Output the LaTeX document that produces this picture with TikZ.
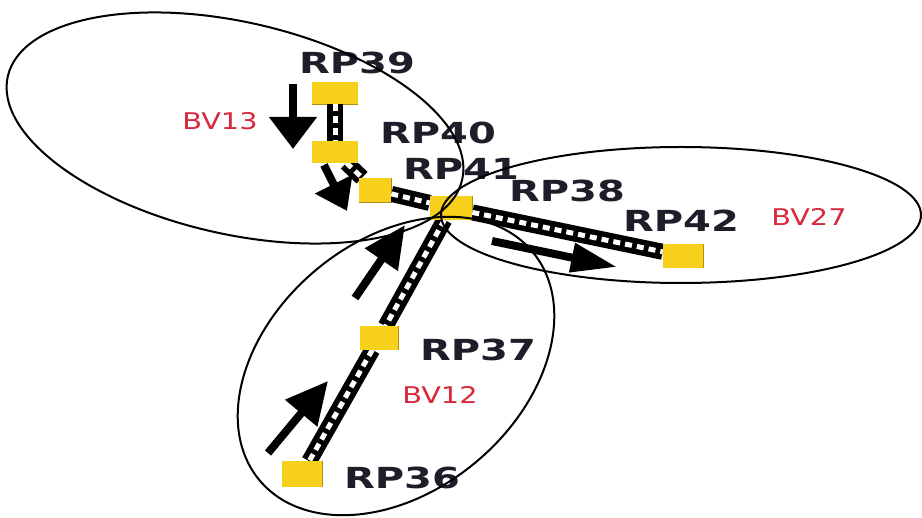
\documentclass[tikz,border=0pt]{standalone}
\usepackage{fontspec}
\newfontfamily\rpfont[FakeStretch=1.38]{DejaVu Sans Bold}
\newfontfamily\bvfont[FakeStretch=1.25]{DejaVu Sans}
\usetikzlibrary{arrows.meta}
\definecolor{padyellow}{HTML}{F6D01A}
\definecolor{bvred}{HTML}{D8283C}
\definecolor{rpink}{HTML}{1E1E2A}
\tikzset{
  pad/.style={fill=padyellow, draw=padyellow!70!black, line width=0.6pt,
    minimum width=40pt, minimum height=23pt, inner sep=0pt},
  rptext/.style={font=\rpfont\fontsize{29}{29}\selectfont, text=rpink, inner sep=0pt},
  bvtext/.style={font=\bvfont\fontsize{23}{23}\selectfont, text=bvred, inner sep=0pt},
  chainlink/.style={preaction={draw=black, line width=16pt}, draw=white,
    line width=5pt, dash pattern=on 7pt off 5pt},
  flow/.style={line width=8pt},
  zone/.style={draw=black, line width=2pt},
}
\begin{document}
\begin{tikzpicture}[x=1pt,y=-1pt]
\useasboundingbox (0,0) rectangle (922,518);
\fill[white] (0,0) rectangle (922,518);

% pads
\node[pad, minimum width=45pt, minimum height=22pt] (rp39) at (335,93) {};
\node[pad, minimum width=45pt, minimum height=21pt] (rp40) at (335,152) {};
\node[pad, minimum width=32pt, minimum height=24pt] (rp41) at (375,190) {};
\node[pad, minimum width=42pt] (rp38) at (451,208) {};
\node[pad] (rp42) at (683,256) {};
\node[pad, minimum width=38pt] (rp37) at (379,338) {};
\node[pad, minimum height=25pt] (rp36) at (302,474) {};

% chains between pads
\draw[chainlink] (rp39) -- (rp40);
\draw[chainlink] (rp40) -- (rp41);
\draw[chainlink] (rp41) -- (rp38);
\draw[chainlink] (rp38) -- (rp42);
\draw[chainlink] (rp38) -- (rp37);
\draw[chainlink] (rp37) -- (rp36);

% redraw pads over the chain ends
\foreach \p in {rp39,rp40,rp41,rp38,rp42,rp37,rp36}{
  \fill[padyellow] (\p.south west) rectangle (\p.north east);
}

% flow arrows
\coordinate (a1s) at (293,84);  \coordinate (a1e) at (293,149);
\coordinate (a2s) at (324,165); \coordinate (a2e) at (347,211);
\coordinate (a3s) at (492,241); \coordinate (a3e) at (617,267);
\coordinate (a4s) at (355,298); \coordinate (a4e) at (405,225);
\coordinate (a5s) at (268,453); \coordinate (a5e) at (328,381);
\draw[flow, -{Triangle[length=32pt,width=46pt]}] (a1s) -- (a1e);
\draw[flow, -{Triangle[length=30pt,width=40pt]}] (a2s) -- (a2e);
\draw[flow, -{Triangle[length=46pt,width=28pt]}] (a3s) -- (a3e);
\draw[flow, -{Triangle[length=42pt,width=38pt]}] (a4s) -- (a4e);
\draw[flow, -{Triangle[length=42pt,width=40pt]}] (a5s) -- (a5e);

% pad labels
\node[rptext] (rp39l) at (357,63) {RP39};
\node[rptext] (rp40l) at (438,133) {RP40};
\node[rptext] (rp41l) at (461,169) {RP41};
\node[rptext] (rp38l) at (567,191) {RP38};
\node[rptext] (rp42l) at (681,221) {RP42};
\node[rptext] (rp37l) at (478,350) {RP37};
\node[rptext] (rp36l) at (402,478) {RP36};

% zone labels
\node[bvtext] (bv13) at (220,121) {BV13};
\node[bvtext] (bv27) at (809,217) {BV27};
\node[bvtext] (bv12) at (440,395) {BV12};

% zones
\draw[zone, rotate around={-12.8:(235,128)}] (235,128) ellipse [x radius=233, y radius=106];
\draw[zone] (681,215) ellipse [x radius=240, y radius=68];
\draw[zone, rotate around={40:(396,366)}] (396,366) ellipse [x radius=178, y radius=125];
\end{tikzpicture}
\end{document}
